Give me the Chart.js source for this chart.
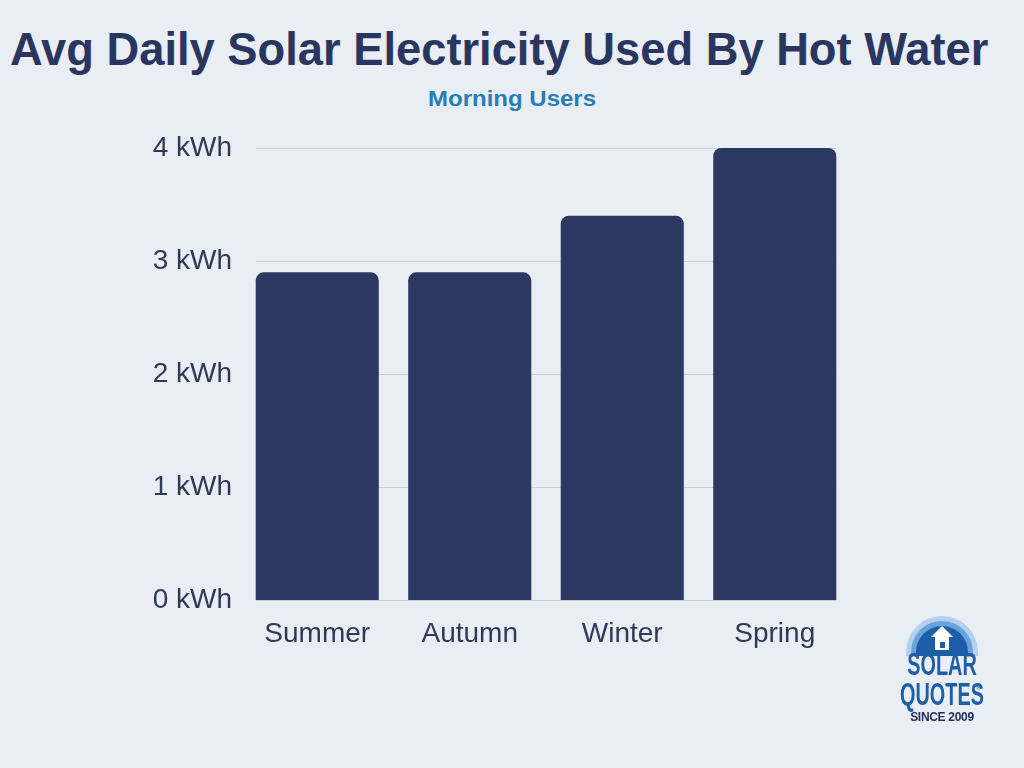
<!DOCTYPE html>
<html>
<head>
<meta charset="utf-8">
<script src="https://cdn.jsdelivr.net/npm/chart.js@4"></script>
<style>
  html, body { margin: 0; padding: 0; background: #e9eef4; }
  body { width: 1024px; height: 768px; position: relative; overflow: hidden; font-family: "Liberation Sans", Arial, sans-serif; }
  #title { position: absolute; left: 10px; top: 24px; font-size: 45.3px; font-weight: bold; color: #2b3660; white-space: nowrap; }
  #subtitle { position: absolute; left: 0; width: 1024px; top: 84px; text-align: center; font-size: 24px; font-weight: bold; color: #2a7db8; transform: scaleY(0.95); }
  #wrap { position: absolute; left: 0; top: 0; width: 1024px; height: 768px; }
  .logo { position: absolute; left: 900px; top: 616px; width: 84px; height: 110px; text-align: center; }
  .dome { position: absolute; left: 6px; top: 0; width: 72px; height: 40px; border-radius: 36px 36px 0 0; background: #b5d0ee; overflow: hidden; }
  .dome .d2 { position: absolute; left: 5px; top: 5px; width: 62px; height: 40px; border-radius: 31px 31px 0 0; background: #6aa3dc; }
  .dome .d3 { position: absolute; left: 10px; top: 10px; width: 52px; height: 40px; border-radius: 26px 26px 0 0; background: #1d5ea8; }
  .house { position: absolute; left: 35px; top: 20px; width: 14px; height: 14px; background: #fff; }
  .window { position: absolute; left: 40px; top: 26px; width: 5px; height: 6px; background: #1d5ea8; }
  .roof { position: absolute; left: 31px; top: 10px; width: 0; height: 0; border-left: 11px solid transparent; border-right: 11px solid transparent; border-bottom: 11px solid #fff; }
  .big { position: absolute; left: -30px; width: 144px; font-weight: bold; color: #1d5ea8; font-size: 32px; line-height: 32px; transform: scaleX(0.62); transform-origin: 72px 0; }
  .reg { position: absolute; left: 76px; top: 68px; font-size: 7px; color: #1d5ea8; }
  .since { position: absolute; left: 0; width: 84px; top: 94px; font-weight: bold; color: #20305c; font-size: 12px; letter-spacing: -0.3px; }
</style>
</head>
<body>
<div id="title">Avg Daily Solar Electricity Used By Hot Water</div>
<div id="subtitle">Morning Users</div>
<div id="wrap"><canvas id="chart" width="1024" height="768"></canvas></div>
<div class="logo">
  <div class="dome"><div class="d2"></div><div class="d3"></div></div>
  <div class="roof"></div>
  <div class="house"></div>
  <div class="window"></div>
  <div class="big" style="top:32px;">SOLAR</div>
  <div class="big" style="top:62px;">QUOTES</div>
  <div class="reg">®</div>
  <div class="since">SINCE 2009</div>
</div>
<script>
const seasons = ["Summer", "Autumn", "Winter", "Spring"];
const kwhValues = [2.9, 2.9, 3.4, 4.0];
const yTicks = [0, 1, 2, 3, 4];

const COLORS = {
  bar: "#2c3862",
  text: "#2f3a56",
  grid: "#c6ccd4",
};

// grid lines only across the span of the bars
const barGrid = {
  id: "barGrid",
  beforeDatasetsDraw(chart) {
    const meta = chart.getDatasetMeta(0);
    if (!meta.data.length) return;
    const first = meta.data[0];
    const last = meta.data[meta.data.length - 1];
    const x0 = first.x - first.width / 2;
    const x1 = last.x + last.width / 2;
    const y = chart.scales.y;
    const ctx = chart.ctx;
    ctx.save();
    ctx.strokeStyle = COLORS.grid;
    ctx.lineWidth = 1;
    yTicks.forEach((t) => {
      const py = Math.round(y.getPixelForValue(t)) + 0.5;
      ctx.beginPath();
      ctx.moveTo(x0, py);
      ctx.lineTo(x1, py);
      ctx.stroke();
    });
    ctx.restore();
  },
};

new Chart(document.getElementById("chart"), {
  type: "bar",
  data: {
    labels: seasons,
    datasets: [
      {
        data: kwhValues,
        backgroundColor: COLORS.bar,
        borderRadius: 8,
        borderSkipped: "start",
        barPercentage: 0.807,
        categoryPercentage: 1,
      },
    ],
  },
  options: {
    responsive: false,
    animation: false,
    layout: { padding: { left: 0, right: 173, top: 148, bottom: 0 } },
    plugins: {
      legend: { display: false },
      tooltip: { enabled: false },
    },
    scales: {
      x: {
        grid: { display: false },
        border: { display: false },
        ticks: {
          color: COLORS.text,
          font: { family: "Liberation Sans", size: 28 },
          padding: 9,
        },
        afterFit: (s) => { s.height = 168; },
      },
      y: {
        min: 0,
        max: 4,
        afterBuildTicks: (s) => { s.ticks = yTicks.map((v) => ({ value: v })); },
        grid: { display: false, drawTicks: false },
        border: { display: false },
        ticks: {
          color: COLORS.text,
          font: { family: "Liberation Sans", size: 28 },
          padding: 9,
          callback: (v) => v + " kWh",
        },
        afterFit: (s) => { s.width = 241; },
      },
    },
  },
  plugins: [barGrid],
});
</script>
</body>
</html>
